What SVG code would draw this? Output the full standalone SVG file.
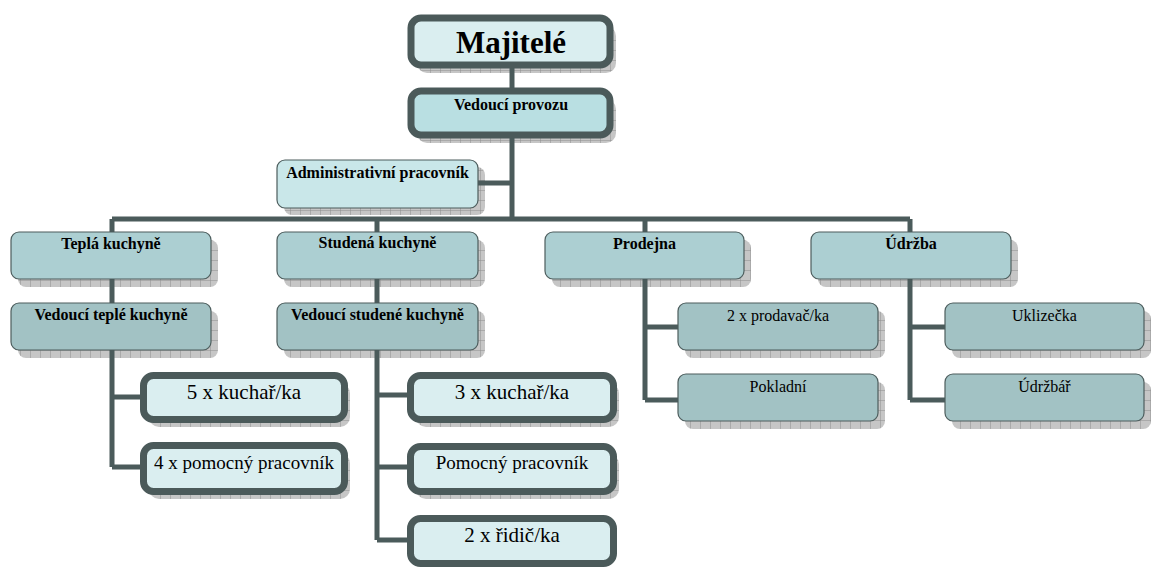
<svg xmlns="http://www.w3.org/2000/svg" width="1151" height="570" viewBox="0 0 1151 570">
<style>
.sh{fill:url(#grid)}
.thin{stroke:#4d5d5d;stroke-width:1.2}
.thick{stroke:#4b5a5a;stroke-width:7}
.conn{fill:none;stroke:#4b5b5b;stroke-width:5}
text{font-family:"Liberation Serif","Times New Roman",serif;text-anchor:middle;fill:#000}
.b{font-weight:bold;font-size:16px}
.r{font-size:16px}
.big{font-size:21px}
.mid{font-size:19px}
.l1{fill:#daeef0}
.l1b{fill:#b9dfe2}
.adm{fill:#c9e7e9}
.l2{fill:#accfd2}
.l3{fill:#a2c2c4}
</style>
<defs>
<pattern id="grid" width="10" height="10" patternUnits="userSpaceOnUse">
<rect width="10" height="10" fill="#c6c6c6"/>
<path d="M0 0H10M0 0V10" stroke="#8e8e8e" stroke-width="1"/>
</pattern>
</defs>
<g id="shadows">
<rect class="sh" x="417" y="26" width="199" height="47" rx="10"/>
<rect class="sh" x="417" y="99" width="199" height="44" rx="10"/>
<rect class="sh" x="284" y="167" width="201" height="48" rx="8"/>
<rect class="sh" x="18" y="240" width="200" height="47" rx="8"/>
<rect class="sh" x="284" y="240" width="201" height="47" rx="8"/>
<rect class="sh" x="552" y="240" width="199" height="47" rx="8"/>
<rect class="sh" x="818" y="240" width="200" height="47" rx="8"/>
<rect class="sh" x="18" y="311" width="200" height="47" rx="8"/>
<rect class="sh" x="284" y="311" width="201" height="47" rx="8"/>
<rect class="sh" x="685" y="311" width="200" height="47" rx="8"/>
<rect class="sh" x="685" y="382" width="200" height="47" rx="8"/>
<rect class="sh" x="952" y="311" width="199" height="47" rx="8"/>
<rect class="sh" x="952" y="382" width="199" height="47" rx="8"/>
<rect class="sh" x="149" y="383" width="201" height="44" rx="10"/>
<rect class="sh" x="149" y="453" width="201" height="46" rx="10"/>
<rect class="sh" x="416" y="383" width="203" height="44" rx="10"/>
<rect class="sh" x="416" y="454" width="203" height="45" rx="10"/>
</g>
<g id="connectors">
<path class="conn" d="M512 66V90M512 136V219M478 183H512M112 219H910M112 219V233M377 219V233M645 219V233M910 219V233"/>
<path class="conn" d="M112 278V304M112 349V467M112 397H141M112 467H141"/>
<path class="conn" d="M377 278V304M377 349V540M377 395H408M377 467H408M377 540H408"/>
<path class="conn" d="M645 278V400M645 327H679M645 400H679"/>
<path class="conn" d="M910 278V400M910 327H946M910 400H946"/>
</g>
<g id="n-majitele"><rect class="thick l1" x="411" y="18" width="199" height="47" rx="10"/><text x="511" y="53" font-size="31" font-weight="bold">Majitelé</text></g>
<g id="n-vedouci-provozu"><rect class="thick l1b" x="411" y="91" width="199" height="44" rx="10"/><text class="b" x="511" y="110">Vedoucí provozu</text></g>
<g id="n-admin"><rect class="thin adm" x="277" y="160" width="201" height="48" rx="8"/><text class="b" x="377.5" y="178">Administrativní pracovník</text></g>
<g id="n-tepla"><rect class="thin l2" x="11" y="232" width="200" height="47" rx="8"/><text class="b" x="111" y="249">Teplá kuchyně</text></g>
<g id="n-studena"><rect class="thin l2" x="277" y="232" width="201" height="47" rx="8"/><text class="b" x="377.5" y="248">Studená kuchyně</text></g>
<g id="n-prodejna"><rect class="thin l2" x="545" y="232" width="199" height="47" rx="8"/><text class="b" x="644.5" y="249">Prodejna</text></g>
<g id="n-udrzba"><rect class="thin l2" x="811" y="232" width="200" height="47" rx="8"/><text class="b" x="911" y="249">Údržba</text></g>
<g id="n-ved-teple"><rect class="thin l3" x="11" y="303" width="200" height="47" rx="8"/><text class="b" x="111" y="320">Vedoucí teplé kuchyně</text></g>
<g id="n-ved-studene"><rect class="thin l3" x="277" y="303" width="201" height="47" rx="8"/><text class="b" x="377.5" y="320">Vedoucí studené kuchyně</text></g>
<g id="n-prodavac"><rect class="thin l3" x="678" y="303" width="200" height="47" rx="8"/><text class="r" x="778" y="321">2 x prodavač/ka</text></g>
<g id="n-pokladni"><rect class="thin l3" x="678" y="374" width="200" height="47" rx="8"/><text class="r" x="778" y="392">Pokladní</text></g>
<g id="n-uklizecka"><rect class="thin l3" x="945" y="303" width="199" height="47" rx="8"/><text class="r" x="1044.5" y="321">Uklizečka</text></g>
<g id="n-udrzbar"><rect class="thin l3" x="945" y="374" width="199" height="47" rx="8"/><text class="r" x="1044.5" y="392">Údržbář</text></g>
<g id="n-5kuchar"><rect class="thick l1" x="143.5" y="375.5" width="201" height="44" rx="10"/><text class="big" x="244" y="399">5 x kuchař/ka</text></g>
<g id="n-4pomocny"><rect class="thick l1" x="143.5" y="445.5" width="201" height="46" rx="10"/><text class="mid" x="244" y="469">4 x pomocný pracovník</text></g>
<g id="n-3kuchar"><rect class="thick l1" x="410.5" y="375.5" width="203" height="44" rx="10"/><text class="big" x="512" y="399">3 x kuchař/ka</text></g>
<g id="n-pomocny"><rect class="thick l1" x="410.5" y="446.5" width="203" height="45" rx="10"/><text class="mid" x="512" y="469">Pomocný pracovník</text></g>
<g id="n-ridic"><rect class="thick l1" x="410.5" y="518.5" width="203" height="45" rx="10"/><text class="big" x="512" y="542">2 x řidič/ka</text></g>
</svg>
